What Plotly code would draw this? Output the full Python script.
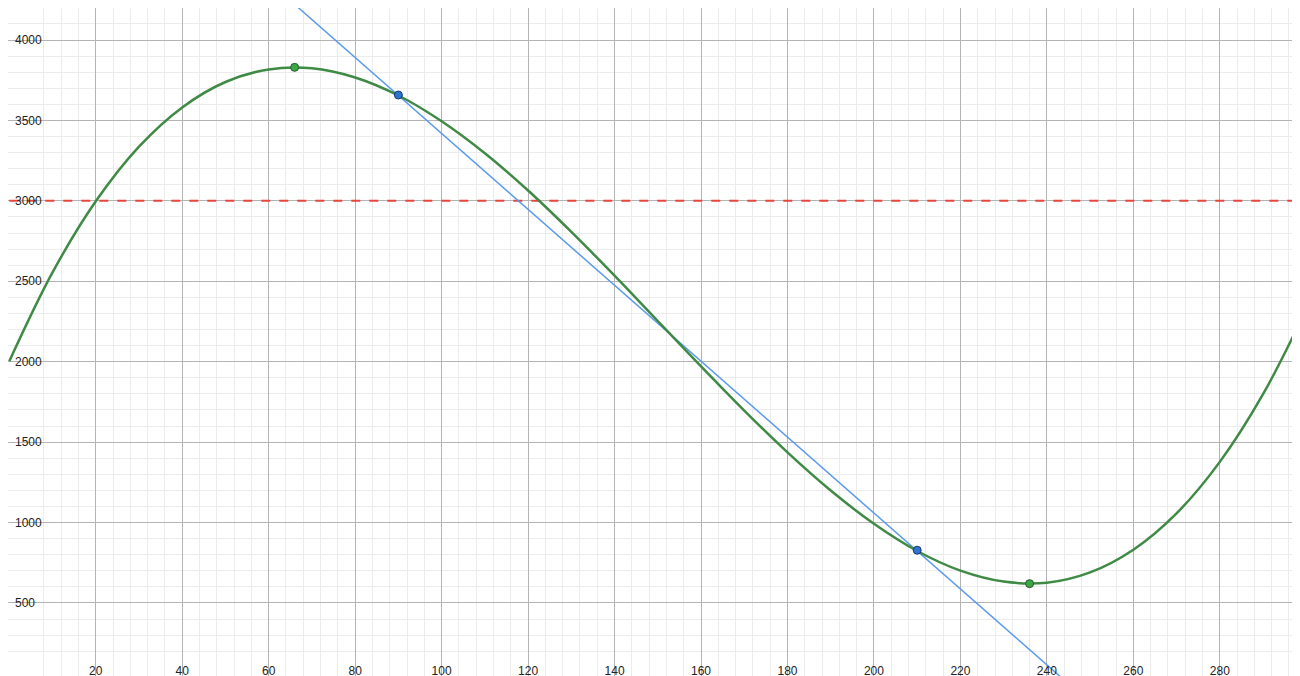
import plotly.graph_objects as go

curve_x = list(range(0, 301, 10))
curve_y = [2003, 2555, 2997, 3337, 3581, 3739, 3817, 3824, 3767, 3655, 3495, 3296, 3064,
           2807, 2535, 2253, 1971, 1696, 1436, 1199, 992, 823, 701, 633, 626, 690, 831,
           1057, 1377, 1798, 2327]
line_x = [0, 300]
line_y = [5779, -1301]
ext_x = [66, 236]
ext_y = [3830, 620]
tan_x = [90, 210]
tan_y = [3658, 828]
ref_y = 3000
x_ticks = list(range(20, 300, 20))
y_ticks = list(range(500, 4001, 500))

fig = go.Figure()
fig.add_trace(go.Scatter(x=[0, 310], y=[ref_y, ref_y], mode="lines",
                         line=dict(color="#e8453c", width=2, dash="dash")))
fig.add_trace(go.Scatter(x=line_x, y=line_y, mode="lines",
                         line=dict(color="#5b9bea", width=1.5)))
fig.add_trace(go.Scatter(x=curve_x, y=curve_y, mode="lines", line_shape="spline",
                         line=dict(color="#3f8a45", width=2.5)))
fig.add_trace(go.Scatter(x=ext_x, y=ext_y, mode="markers",
                         marker=dict(color="#3aa845", size=8, line=dict(color="#2a5a2a", width=1))))
fig.add_trace(go.Scatter(x=tan_x, y=tan_y, mode="markers",
                         marker=dict(color="#2f74d0", size=8, line=dict(color="#1a3a6a", width=1))))

axis_common = dict(showline=False, zeroline=False, gridcolor="#b4b4b4", gridwidth=1,
                   ticks="", ticklabelposition="inside", tickfont=dict(size=12, color="#222"),
                   minor=dict(showgrid=True, gridcolor="#ececec", gridwidth=1),
                   automargin=False)
fig.update_xaxes(range=[-0.3, 300.4], tickvals=x_ticks, minor_dtick=4,
                 ticklabelstandoff=4, **axis_common)
fig.update_yaxes(range=[-4, 4199], tickvals=y_ticks, minor_dtick=100,
                 ticklabelstandoff=4, **axis_common)
fig.update_layout(width=1300, height=676,
                  margin=dict(l=0, r=0, t=0, b=0, pad=0, autoexpand=False),
                  plot_bgcolor="white", paper_bgcolor="white", showlegend=False,
                  font=dict(family="Liberation Sans, Arial, sans-serif"))
fig.write_html("out.html")
